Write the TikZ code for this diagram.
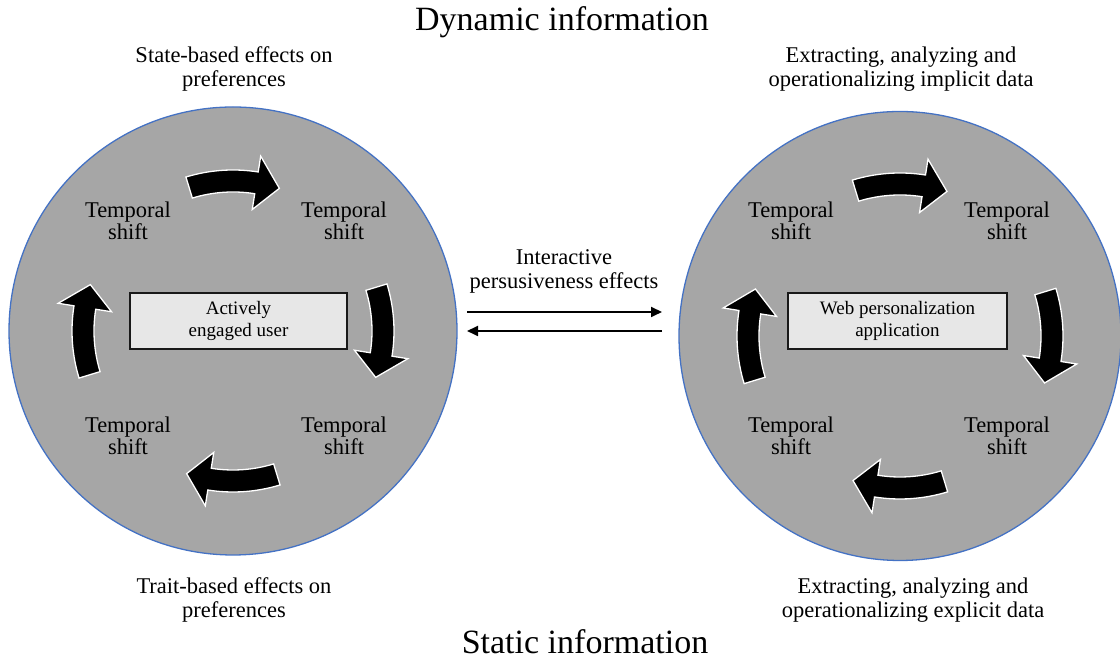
\documentclass[tikz,border=0pt]{standalone}
\usepackage{fontspec}
\setmainfont{Liberation Serif}
\usetikzlibrary{arrows.meta,shapes.geometric}

\definecolor{discgray}{RGB}{166,166,166}
\definecolor{discedge}{RGB}{68,114,196}
\definecolor{boxgray}{RGB}{231,231,231}

\tikzset{
  disc/.style={fill=discgray, draw=discedge, line width=1.3pt, inner sep=0pt},
  corebox/.style={draw=black!90, fill=boxgray, line width=2pt, minimum width=217pt,
    minimum height=56pt, align=center, inner sep=0pt, font=\fontsize{19}{21.5}\selectfont},
  shiftlabel/.style={align=center, font=\fontsize{22.5}{22.5}\selectfont},
  caption/.style={align=center, font=\fontsize{22.5}{24}\selectfont},
  heading/.style={font=\fontsize{34}{36}\selectfont},
  cycarrowstyle/.style={fill=black, draw=white, line width=1.3pt, line join=miter},
  flow/.style={line width=1.8pt, -{Triangle[length=11pt,width=10pt]}},
}

% curved block arrow running clockwise around a centre
% #1 centre, #2 reference angle, #3 mid radius
\newcommand{\cycarrow}[3]{%
  \begin{scope}[shift={(#1)}]
    \path[cycarrowstyle]
      ({#2+17}:{#3+11}) arc[start angle={#2+17}, end angle={#2-9}, radius={#3+11}]
      -- ({#2-9}:{#3+27}) -- ({#2-18}:{#3}) -- ({#2-9}:{#3-27}) -- ({#2-9}:{#3-11})
      arc[start angle={#2-9}, end angle={#2+17}, radius={#3-11}] -- cycle;
  \end{scope}}

\begin{document}
\begin{tikzpicture}[x=1pt, y=1pt]
  \useasboundingbox (0,0) rectangle (1120,660);

  % the two discs
  \node[disc, circle, minimum size=448pt] (user) at (233,329) {};
  \node[disc, ellipse, minimum width=442pt, minimum height=449pt] (web) at (900,324) {};

  % headings
  \node[heading] (dyn) at (562,638) {Dynamic information};
  \node[heading] (stat) at (585,18) {Static information};

  % captions around the discs
  \node[caption] (state) at (234,591) {State-based effects on\\preferences};
  \node[caption] (trait) at (234,60) {Trait-based effects on\\preferences};
  \node[caption] (implicit) at (901,591) {Extracting, analyzing and\\operationalizing implicit data};
  \node[caption] (explicit) at (913,60) {Extracting, analyzing and\\operationalizing explicit data};
  \node[caption] (inter) at (564,389) {Interactive\\persusiveness effects};

  % cycle arrows
  \foreach \a in {90,0,-90,180} {
    \cycarrow{user.center}{\a}{150}
    \cycarrow{web.center}{\a}{152}
  }

  % temporal shift labels
  \node[shiftlabel] (u1) at (128,439) {Temporal\\shift};
  \node[shiftlabel] (u2) at (344,439) {Temporal\\shift};
  \node[shiftlabel] (u3) at (344,224) {Temporal\\shift};
  \node[shiftlabel] (u4) at (128,224) {Temporal\\shift};
  \node[shiftlabel] (w1) at (791,439) {Temporal\\shift};
  \node[shiftlabel] (w2) at (1007,439) {Temporal\\shift};
  \node[shiftlabel] (w3) at (1007,224) {Temporal\\shift};
  \node[shiftlabel] (w4) at (791,224) {Temporal\\shift};

  % central boxes
  \node[corebox] (userbox) at (238.5,339) {Actively\\engaged user};
  \node[corebox, minimum width=219pt] (webbox) at (897.5,339) {Web personalization\\application};

  % exchange arrows between the two sides
  \coordinate (ua) at (467,348);
  \coordinate (wa) at (662,348);
  \coordinate (ub) at (467,329);
  \coordinate (wb) at (662,329);
  \draw[flow] (ua) -- (wa);
  \draw[flow] (wb) -- (ub);
\end{tikzpicture}
\end{document}
